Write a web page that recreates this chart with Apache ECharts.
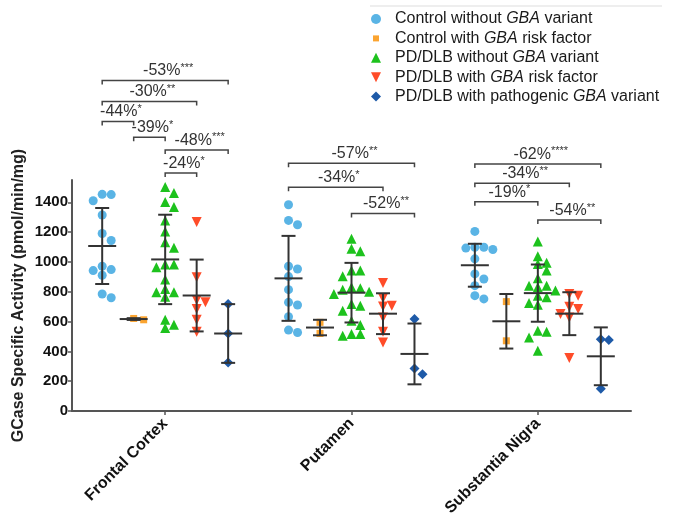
<!DOCTYPE html>
<html><head><meta charset="utf-8">
<script src="https://cdn.jsdelivr.net/npm/echarts@6/dist/echarts.min.js"></script>
<style>html,body{margin:0;padding:0;background:#fff}#c{width:676px;height:520px}</style>
</head><body><div id="c"></div>
<script>
// ---------- data ----------
const regions = ['Frontal Cortex', 'Putamen', 'Substantia Nigra'];
const groupNames = ['Control without GBA variant', 'Control with GBA risk factor', 'PD/DLB without GBA variant', 'PD/DLB with GBA risk factor', 'PD/DLB with pathogenic GBA variant'];
const yTicks = [0, 200, 400, 600, 800, 1000, 1200, 1400];

// individual values per region [Frontal, Putamen, SN]
const ctrlNoVar = [
  [1454, 1452, 1411, 1315, 1191, 1144, 971, 949, 942, 911, 785, 760],
  [1384, 1279, 1250, 971, 953, 902, 814, 729, 711, 633, 543, 527],
  [1205, 1099, 1099, 1093, 1084, 1021, 920, 886, 841, 774, 752]
];
const ctrlRisk = [
  [621, 612],
  [595, 520],
  [734, 471]
];
const pdNoVar = [
  [1503, 1463, 1402, 1368, 1279, 1205, 1133, 1095, 983, 983, 965, 882, 819, 797, 797, 767, 612, 579, 557],
  [1155, 1088, 1072, 942, 942, 904, 830, 823, 814, 800, 785, 718, 707, 673, 606, 577, 516, 516, 505],
  [1137, 1039, 994, 987, 942, 891, 841, 841, 830, 808, 774, 763, 725, 713, 538, 532, 494, 404]
];
const pdRisk = [
  [1268, 897, 745, 729, 684, 612, 532],
  [859, 756, 707, 702, 628, 532, 460],
  [785, 774, 700, 684, 651, 628, 355]
];
const pdPath = [
  [718, 520, 325],
  [617, 285, 247],
  [482, 476, 150]
];

// mean and SD per region
const meanCtrlNoVar = [1107, 890, 978];
const sdCtrlNoVar   = [255, 285, 144];
const meanCtrlRisk  = [617, 560, 602];
const sdCtrlRisk    = [6, 52, 183];
const meanPdNoVar   = [1017, 794, 791];
const sdPdNoVar     = [300, 200, 192];
const meanPdRisk    = [775, 653, 653];
const sdPdRisk      = [241, 137, 144];
const meanPdPath    = [520, 383, 367];
const sdPdPath      = [197, 204, 194];

// comparisons: [region, groupA, groupB, bracket level (activity units), change, significance]
const comparisons = [
  [0, 0, 4, 2218, '-53%', '***'],
  [0, 0, 3, 2077, '-30%', '**'],
  [0, 0, 1, 1942, '-44%', '*'],
  [0, 1, 2, 1837, '-39%', '*'],
  [0, 2, 4, 1752, '-48%', '***'],
  [0, 2, 3, 1597, '-24%', '*'],
  [1, 0, 4, 1662, '-57%', '**'],
  [1, 0, 3, 1501, '-34%', '*'],
  [1, 2, 4, 1326, '-52%', '**'],
  [2, 0, 4, 1658, '-62%', '****'],
  [2, 0, 3, 1528, '-34%', '**'],
  [2, 0, 2, 1404, '-19%', '*'],
  [2, 2, 4, 1281, '-54%', '**']
];

// ---------- layout / style ----------
const values = [ctrlNoVar, ctrlRisk, pdNoVar, pdRisk, pdPath];
const means = [meanCtrlNoVar, meanCtrlRisk, meanPdNoVar, meanPdRisk, meanPdPath];
const sds = [sdCtrlNoVar, sdCtrlRisk, sdPdNoVar, sdPdRisk, sdPdPath];
const groupOffset = [-0.338, -0.169, 0, 0.169, 0.338];
const colors = ['#5AB4E5', '#FBA430', '#1DC21D', '#FF4C29', '#1E5AA8'];
const symbols = ['circle', 'rect', 'triangle', 'triangle', 'diamond'];
const legendIcons = ['circle', 'path://M0,0 M10,10 M2,2 L8,2 L8,8 L2,8 Z', 'triangle', 'path://M0,0 L10,0 L5,10 Z', 'diamond'];
const rotates = [0, 0, 0, 180, 0];
const sizes = [9, 7, 10, 10, 10];
const steps = [9, 5, 8.8, 8.8, 8];
const minDist = [8, 6, 7.5, 7.5, 7.5];
const FONT = '"Liberation Sans", Arial, sans-serif';

const GRID = {left: 72, right: 45, top: 180, bottom: 109};
const Y_MAX = 1550;
const plotW = 676 - GRID.left - GRID.right;
const plotH = 520 - GRID.top - GRID.bottom;
const ppx = plotW / 3, ppy = plotH / Y_MAX;

// simple dot-plot (beeswarm) spreading of overlapping points
function swarm(vals, step, dist) {
  const placed = [];
  const res = new Array(vals.length);
  const order = vals.map((v, i) => i).sort((a, b) => vals[b] - vals[a]);
  for (const i of order) {
    const v = vals[i];
    for (let k = 0; k < 30; k++) {
      const off = (k === 0 ? 0 : (k % 2 ? 1 : -1) * Math.ceil(k / 2)) * step;
      const ok = placed.every(p => {
        const dx = p.x - off, dy = (p.v - v) * ppy;
        return dx * dx + dy * dy >= dist * dist;
      });
      if (ok) { placed.push({x: off, v}); res[i] = off; break; }
    }
  }
  return res;
}

const series = [];
values.forEach((g, gi) => {
  const data = [];
  g.forEach((vals, r) => {
    const offs = swarm(vals, steps[gi], minDist[gi]);
    vals.forEach((v, i) => data.push([r + groupOffset[gi] + offs[i] / ppx, v]));
  });
  series.push({
    name: groupNames[gi], type: 'scatter', data,
    symbol: symbols[gi], symbolSize: sizes[gi], symbolRotate: rotates[gi],
    itemStyle: {color: colors[gi], opacity: 1}, z: 2, silent: true
  });
});

// error bars (mean ± SD)
const ebData = [];
means.forEach((m, gi) => m.forEach((mv, r) => ebData.push([r + groupOffset[gi], mv, sds[gi][r]])));
series.push({
  type: 'custom', name: 'sd', data: ebData, z: 5, clip: false, silent: true,
  encode: {x: 0, y: 1},
  renderItem(params, api) {
    const x = api.value(0), m = api.value(1), s = api.value(2);
    const pm = api.coord([x, m]), pt = api.coord([x, m + s]), pb = api.coord([x, m - s]);
    const style = {stroke: '#333', lineWidth: 2};
    return {type: 'group', children: [
      {type: 'line', shape: {x1: pm[0] - 14, y1: pm[1], x2: pm[0] + 14, y2: pm[1]}, style},
      {type: 'line', shape: {x1: pt[0], y1: pt[1], x2: pb[0], y2: pb[1]}, style},
      {type: 'line', shape: {x1: pt[0] - 7, y1: pt[1], x2: pt[0] + 7, y2: pt[1]}, style},
      {type: 'line', shape: {x1: pb[0] - 7, y1: pb[1], x2: pb[0] + 7, y2: pb[1]}, style}
    ]};
  }
});

// significance brackets
const brData = comparisons.map(c => [c[0] + groupOffset[c[1]], c[0] + groupOffset[c[2]], c[3]]);
series.push({
  type: 'custom', name: 'sig', data: brData, z: 6, clip: false, silent: true,
  encode: {x: [0, 1], y: 2},
  renderItem(params, api) {
    const c = comparisons[params.dataIndex];
    const p1 = api.coord([api.value(0), api.value(2)]);
    const p2 = api.coord([api.value(1), api.value(2)]);
    return {type: 'group', children: [
      {type: 'polyline', shape: {points: [[p1[0], p1[1] + 4], [p1[0], p1[1]], [p2[0], p2[1]], [p2[0], p2[1] + 4]]},
       style: {stroke: '#444', lineWidth: 1.5, fill: null}},
      {type: 'text', x: (p1[0] + p2[0]) / 2 + 3, y: p1[1] - 1,
       style: {text: '{p|' + c[4] + '}{s|' + c[5] + '}', align: 'center', verticalAlign: 'bottom',
         rich: {
           p: {fontSize: 16, fontFamily: FONT, fill: '#333', lineHeight: 17},
           s: {fontSize: 11, fontFamily: FONT, fill: '#333', lineHeight: 17, verticalAlign: 'top'}
         }}}
    ]};
  }
});

const chart = echarts.init(document.getElementById('c'));
chart.setOption({
  animation: false,
  backgroundColor: '#fff',
  grid: GRID,
  legend: {
    orient: 'vertical', left: 366, top: 6, itemWidth: 10, itemHeight: 10, itemGap: 3.4,
    data: groupNames.map((n, i) => ({name: n, icon: legendIcons[i]})),
    formatter: name => '{g| }{n|' + name.replace('GBA', '}{i|GBA}{n|') + '}',
    textStyle: {
      rich: {
        g: {width: 9, fontSize: 16, lineHeight: 16},
        n: {fontSize: 16, fontFamily: FONT, color: '#1a1a1a', lineHeight: 16},
        i: {fontSize: 16, fontFamily: FONT, color: '#1a1a1a', fontStyle: 'italic', lineHeight: 16}
      }
    }
  },
  xAxis: {
    type: 'value', min: -0.5, max: 2.5,
    splitLine: {show: false},
    axisLine: {show: true, onZero: false, lineStyle: {color: '#555', width: 2}},
    axisTick: {show: true, customValues: [0, 1, 2], length: 4, lineStyle: {color: '#555', width: 1.5}},
    axisLabel: {
      customValues: [0, 1, 2], rotate: 45, margin: 10,
      formatter: v => regions[Math.round(v)] || '',
      fontSize: 16, fontWeight: 'bold', fontFamily: FONT, color: '#111'
    }
  },
  yAxis: {
    type: 'value', min: 0, max: Y_MAX,
    name: 'GCase Specific Activity (pmol/min/mg)', nameLocation: 'middle', nameGap: 45,
    nameMoveOverlap: false,
    nameTextStyle: {fontSize: 16, fontWeight: 'bold', fontFamily: FONT, color: '#222'},
    splitLine: {show: false},
    axisLine: {show: true, onZero: false, lineStyle: {color: '#555', width: 2}},
    axisTick: {show: true, customValues: yTicks, length: 4, lineStyle: {color: '#555', width: 1.5}},
    axisLabel: {customValues: yTicks, margin: 4, formatter: v => String(v),
      fontSize: 15, fontWeight: 'bold', fontFamily: FONT, color: '#111'}
  },
  graphic: [{type: 'line', shape: {x1: 370, y1: 6, x2: 662, y2: 6}, style: {stroke: '#ddd', lineWidth: 1}}],
  series
});
</script></body></html>
